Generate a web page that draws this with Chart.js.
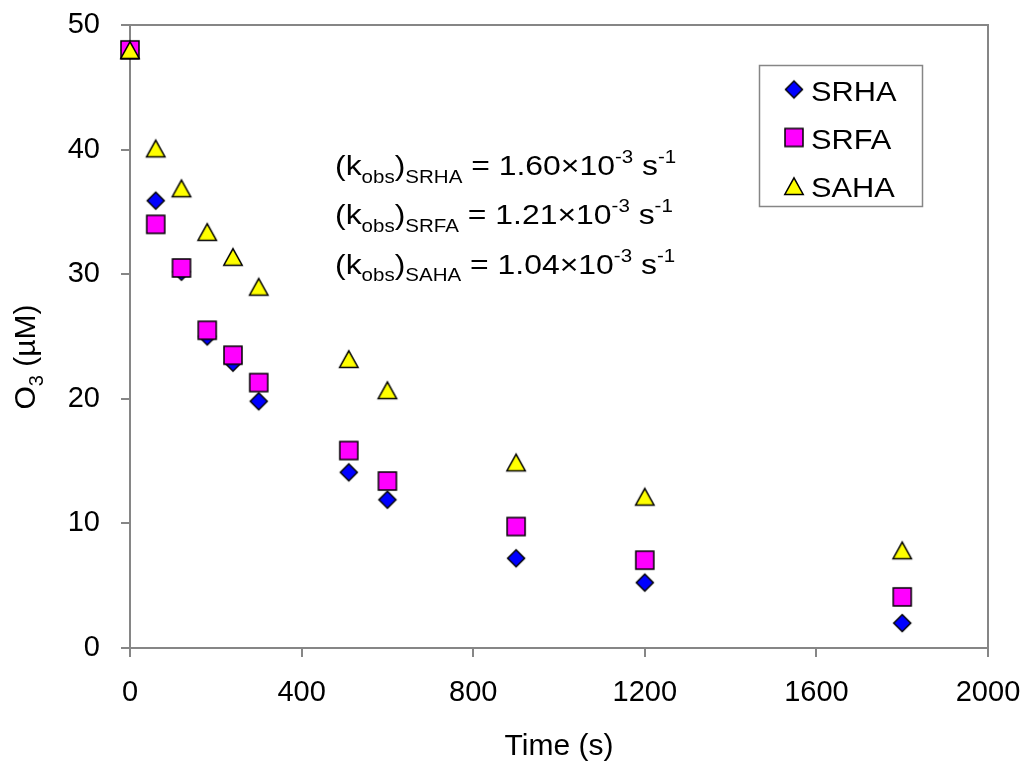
<!DOCTYPE html>
<html>
<head>
<meta charset="utf-8">
<script src="https://cdn.jsdelivr.net/npm/chart.js@4.4.1/dist/chart.umd.min.js"></script>
<style>
  html, body { margin: 0; padding: 0; background: #fff; }
  canvas { display: block; }
</style>
</head>
<body>
<canvas id="ozoneChart" width="1027" height="764"></canvas>
<script>
// ozone decay in the presence of three humic / fulvic isolates
const times = [0, 60, 120, 180, 240, 300, 510, 600, 900, 1200, 1800];
const srha = [48, 35.9, 30.2, 25.0, 22.9, 19.8, 14.1, 11.9, 7.2, 5.25, 2.0];
const srfa = [48, 34.0, 30.5, 25.5, 23.5, 21.3, 15.85, 13.4, 9.75, 7.05, 4.1];
const saha = [48, 40.1, 36.9, 33.4, 31.4, 29.0, 23.2, 20.7, 14.9, 12.15, 7.85];
const seriesNames = ['SRHA', 'SRFA', 'SAHA'];
const kobsValues = ['1.60', '1.21', '1.04'];
const xTicks = [0, 400, 800, 1200, 1600, 2000];
const yTicks = [0, 10, 20, 30, 40, 50];

const FONT = '"Liberation Sans", Arial, sans-serif';
const AXIS_GREY = '#868686';
const TEXT_STRETCH = 1.14;

// excel-like markers, drawn once and reused for the points and the legend
function makeMarker(shape, fill) {
    const c = document.createElement('canvas');
    c.width = 24;
    c.height = 24;
    const g = c.getContext('2d');
    g.beginPath();
    if (shape === 'diamond') {
        g.moveTo(12, 3.5); g.lineTo(20.5, 12); g.lineTo(12, 20.5); g.lineTo(3.5, 12);
    } else if (shape === 'square') {
        g.rect(3, 3, 18, 18);
    } else {
        g.moveTo(12, 3.8); g.lineTo(21.2, 20.5); g.lineTo(2.8, 20.5);
    }
    g.closePath();
    g.fillStyle = fill;
    g.fill();
    g.lineWidth = 1.5;
    g.strokeStyle = '#000';
    g.stroke();
    return c;
}

const markers = [
    makeMarker('diamond', '#0000ff'),
    makeMarker('square', '#ff00ff'),
    makeMarker('triangle', '#ffff00'),
];

function toPoints(values) {
    return times.map((t, i) => ({ x: t, y: values[i] }));
}

// text runs with sub/superscripts: [text, 'n' | 'sub' | 'sup']
function drawRich(ctx, x, y, parts, size) {
    const small = Math.round(size * 0.66);
    parts.forEach(([text, kind]) => {
        let dy = 0;
        let fs = size;
        if (kind === 'sub') { fs = small; dy = size * 0.28; }
        if (kind === 'sup') { fs = small; dy = -size * 0.42; }
        ctx.font = `${fs}px ${FONT}`;
        ctx.fillText(text, x, y + dy);
        x += ctx.measureText(text).width;
    });
    return x;
}

const decorations = {
    id: 'decorations',
    beforeDatasetsDraw(chart) {
        const { ctx, chartArea: a } = chart;
        ctx.save();
        ctx.strokeStyle = AXIS_GREY;
        ctx.lineWidth = 2;
        ctx.beginPath();
        ctx.moveTo(a.left, a.top);
        ctx.lineTo(a.right, a.top);
        ctx.lineTo(a.right, a.bottom);
        ctx.stroke();
        ctx.restore();
    },
    afterDraw(chart) {
        const { ctx, chartArea: a } = chart;
        ctx.save();
        ctx.fillStyle = '#000';
        ctx.textBaseline = 'alphabetic';

        // axis titles
        ctx.font = `30px ${FONT}`;
        ctx.textAlign = 'center';
        ctx.fillText('Time (s)', (a.left + a.right) / 2, 755);

        ctx.save();
        ctx.translate(35, 357);
        ctx.rotate(-Math.PI / 2);
        ctx.textAlign = 'left';
        const yParts = [['O', 'n'], ['3', 'sub'], [' (µM)', 'n']];
        let w = 0;
        yParts.forEach(([t, k]) => {
            ctx.font = `${k === 'n' ? 30 : 20}px ${FONT}`;
            w += ctx.measureText(t).width;
        });
        drawRich(ctx, -w / 2, 0, yParts, 30);
        ctx.restore();

        // rate constants
        ctx.textAlign = 'left';
        const rows = [175, 224, 273.5];
        seriesNames.forEach((name, i) => {
            ctx.save();
            ctx.translate(335, rows[i]);
            ctx.scale(TEXT_STRETCH, 1);
            drawRich(ctx, 0, 0, [
                ['(k', 'n'], ['obs', 'sub'], [')', 'n'], [name, 'sub'],
                [' = ' + kobsValues[i] + '×10', 'n'], ['-3', 'sup'],
                [' s', 'n'], ['-1', 'sup'],
            ], 28);
            ctx.restore();
        });

        // legend
        ctx.strokeStyle = AXIS_GREY;
        ctx.lineWidth = 1.5;
        ctx.strokeRect(759.5, 65.5, 163, 141);
        const legendRows = [89.5, 137.5, 186];
        ctx.font = `27px ${FONT}`;
        seriesNames.forEach((name, i) => {
            ctx.drawImage(markers[i], 794 - 12, legendRows[i] - 12);
            ctx.save();
            ctx.translate(811, legendRows[i] + 11);
            ctx.scale(TEXT_STRETCH, 1);
            ctx.fillText(name, 0, 0);
            ctx.restore();
        });
        ctx.restore();
    },
};

// keep label overhang from pushing the plot area around
function noOverhang(s) {
    s.paddingLeft = 0;
    s.paddingRight = 0;
    s.paddingTop = 0;
    s.paddingBottom = 0;
}

const axisCommon = {
    type: 'linear',
    grid: { drawOnChartArea: false, drawTicks: true, tickLength: 9, color: AXIS_GREY, lineWidth: 2 },
    border: { color: AXIS_GREY, width: 2 },
};

new Chart(document.getElementById('ozoneChart'), {
    type: 'scatter',
    data: {
        datasets: [srha, srfa, saha].map((values, i) => ({
            label: seriesNames[i],
            data: toPoints(values),
            pointStyle: markers[i],
            order: 2 - i,
            clip: false,
        })),
    },
    options: {
        responsive: false,
        devicePixelRatio: 1,
        animation: false,
        events: [],
        layout: { padding: { top: 25, right: 39, left: 0, bottom: 0 } },
        plugins: { legend: { display: false }, tooltip: { enabled: false } },
        scales: {
            x: {
                ...axisCommon,
                min: 0,
                max: 2000,
                afterBuildTicks: (s) => { s.ticks = xTicks.map((v) => ({ value: v })); },
                afterFit: (s) => { s.height = 116; noOverhang(s); },
                ticks: {
                    font: { family: FONT, size: 29 },
                    color: '#000',
                    padding: 19,
                    maxRotation: 0,
                    callback: (v) => String(v),
                },
            },
            y: {
                ...axisCommon,
                min: 0,
                max: 50,
                afterBuildTicks: (s) => { s.ticks = yTicks.map((v) => ({ value: v })); },
                afterFit: (s) => { s.width = 130; noOverhang(s); },
                ticks: {
                    font: { family: FONT, size: 29 },
                    color: '#000',
                    padding: 21,
                    callback: (v) => String(v),
                },
            },
        },
    },
    plugins: [decorations],
});
</script>
</body>
</html>
